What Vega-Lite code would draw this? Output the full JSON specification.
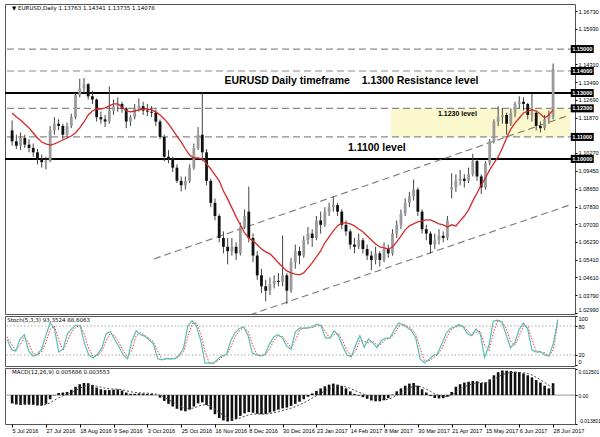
{
"$schema":"https://vega.github.io/schema/vega-lite/v6.json",
"background":"white",
"padding":{"left":3,"top":3,"right":0,"bottom":0},
"spacing":2,
"bounds":"flush",
"datasets":{
"p":[
{"i":0,"o":1.1130,"h":1.1175,"l":1.1060,"c":1.1080,"a":1.1209,"k":52,"d":58,"m":-0.0040,"s":-0.0035},
{"i":2,"o":1.1080,"h":1.1110,"l":1.1045,"c":1.1060,"a":1.1191,"k":32,"d":42,"m":-0.0045,"s":-0.0039},
{"i":4,"o":1.1060,"h":1.1120,"l":1.1040,"c":1.1095,"a":1.1177,"k":28,"d":30,"m":-0.0048,"s":-0.0042},
{"i":6,"o":1.1095,"h":1.1110,"l":1.1050,"c":1.1065,"a":1.1159,"k":53,"d":40,"m":-0.0046,"s":-0.0043},
{"i":8,"o":1.1065,"h":1.1090,"l":1.1030,"c":1.1050,"a":1.1141,"k":62,"d":57,"m":-0.0045,"s":-0.0044},
{"i":10,"o":1.1050,"h":1.1070,"l":1.1010,"c":1.1030,"a":1.1118,"k":28,"d":45,"m":-0.0046,"s":-0.0045},
{"i":12,"o":1.1030,"h":1.1045,"l":1.0975,"c":1.1000,"a":1.1095,"k":18,"d":23,"m":-0.0050,"s":-0.0047},
{"i":14,"o":1.1000,"h":1.1020,"l":1.0960,"c":1.0985,"a":1.1077,"k":21,"d":20,"m":-0.0050,"s":-0.0048},
{"i":16,"o":1.0985,"h":1.1010,"l":1.0952,"c":1.0990,"a":1.1068,"k":32,"d":26,"m":-0.0042,"s":-0.0046},
{"i":18,"o":1.0990,"h":1.1150,"l":1.0985,"c":1.1130,"a":1.1063,"k":60,"d":46,"m":-0.0020,"s":-0.0037},
{"i":20,"o":1.1130,"h":1.1190,"l":1.1110,"c":1.1160,"a":1.1068,"k":87,"d":73,"m":-0.0002,"s":-0.0025},
{"i":22,"o":1.1160,"h":1.1180,"l":1.1130,"c":1.1150,"a":1.1077,"k":74,"d":80,"m":0.0010,"s":-0.0013},
{"i":24,"o":1.1150,"h":1.1160,"l":1.1090,"c":1.1110,"a":1.1086,"k":26,"d":50,"m":0.0012,"s":-0.0004},
{"i":26,"o":1.1110,"h":1.1165,"l":1.1100,"c":1.1150,"a":1.1095,"k":32,"d":29,"m":0.0015,"s":0.0003},
{"i":28,"o":1.1150,"h":1.1205,"l":1.1140,"c":1.1190,"a":1.1104,"k":64,"d":48,"m":0.0025,"s":0.0011},
{"i":30,"o":1.1190,"h":1.1300,"l":1.1180,"c":1.1290,"a":1.1118,"k":74,"d":69,"m":0.0040,"s":0.0021},
{"i":32,"o":1.1290,"h":1.1365,"l":1.1280,"c":1.1320,"a":1.1141,"k":82,"d":78,"m":0.0052,"s":0.0032},
{"i":34,"o":1.1320,"h":1.1368,"l":1.1300,"c":1.1340,"a":1.1168,"k":80,"d":81,"m":0.0058,"s":0.0041},
{"i":36,"o":1.1340,"h":1.1345,"l":1.1270,"c":1.1285,"a":1.1200,"k":43,"d":62,"m":0.0057,"s":0.0046},
{"i":38,"o":1.1285,"h":1.1310,"l":1.1250,"c":1.1270,"a":1.1218,"k":20,"d":32,"m":0.0048,"s":0.0047},
{"i":40,"o":1.1270,"h":1.1275,"l":1.1170,"c":1.1190,"a":1.1227,"k":14,"d":17,"m":0.0036,"s":0.0043},
{"i":42,"o":1.1190,"h":1.1215,"l":1.1160,"c":1.1180,"a":1.1227,"k":22,"d":18,"m":0.0028,"s":0.0038},
{"i":44,"o":1.1180,"h":1.1200,"l":1.1145,"c":1.1170,"a":1.1232,"k":34,"d":28,"m":0.0024,"s":0.0033},
{"i":46,"o":1.1170,"h":1.1330,"l":1.1160,"c":1.1220,"a":1.1241,"k":64,"d":49,"m":0.0024,"s":0.0030},
{"i":48,"o":1.1220,"h":1.1270,"l":1.1200,"c":1.1240,"a":1.1250,"k":68,"d":66,"m":0.0026,"s":0.0029},
{"i":50,"o":1.1240,"h":1.1280,"l":1.1215,"c":1.1250,"a":1.1250,"k":52,"d":60,"m":0.0027,"s":0.0028},
{"i":52,"o":1.1250,"h":1.1260,"l":1.1210,"c":1.1230,"a":1.1236,"k":37,"d":45,"m":0.0022,"s":0.0026},
{"i":54,"o":1.1230,"h":1.1235,"l":1.1140,"c":1.1170,"a":1.1218,"k":20,"d":29,"m":0.0012,"s":0.0021},
{"i":56,"o":1.1170,"h":1.1200,"l":1.1150,"c":1.1190,"a":1.1214,"k":12,"d":16,"m":0.0006,"s":0.0016},
{"i":58,"o":1.1190,"h":1.1250,"l":1.1180,"c":1.1230,"a":1.1218,"k":49,"d":30,"m":0.0006,"s":0.0013},
{"i":60,"o":1.1230,"h":1.1275,"l":1.1215,"c":1.1240,"a":1.1223,"k":70,"d":60,"m":0.0008,"s":0.0011},
{"i":62,"o":1.1240,"h":1.1260,"l":1.1200,"c":1.1220,"a":1.1227,"k":62,"d":66,"m":0.0007,"s":0.0010},
{"i":64,"o":1.1220,"h":1.1250,"l":1.1195,"c":1.1215,"a":1.1227,"k":59,"d":60,"m":0.0006,"s":0.0009},
{"i":66,"o":1.1215,"h":1.1240,"l":1.1190,"c":1.1210,"a":1.1223,"k":51,"d":55,"m":0.0005,"s":0.0008},
{"i":68,"o":1.1210,"h":1.1225,"l":1.1150,"c":1.1170,"a":1.1214,"k":43,"d":47,"m":0.0001,"s":0.0005},
{"i":70,"o":1.1170,"h":1.1180,"l":1.1090,"c":1.1100,"a":1.1200,"k":12,"d":28,"m":-0.0012,"s":-0.0001},
{"i":72,"o":1.1100,"h":1.1110,"l":1.0990,"c":1.1010,"a":1.1182,"k":10,"d":11,"m":-0.0028,"s":-0.0011},
{"i":74,"o":1.1010,"h":1.1040,"l":1.0980,"c":1.1000,"a":1.1159,"k":13,"d":12,"m":-0.0042,"s":-0.0022},
{"i":76,"o":1.1000,"h":1.1010,"l":1.0940,"c":1.0960,"a":1.1132,"k":12,"d":12,"m":-0.0055,"s":-0.0033},
{"i":78,"o":1.0960,"h":1.0975,"l":1.0890,"c":1.0900,"a":1.1104,"k":13,"d":12,"m":-0.0066,"s":-0.0045},
{"i":80,"o":1.0900,"h":1.0920,"l":1.0852,"c":1.0880,"a":1.1077,"k":20,"d":17,"m":-0.0074,"s":-0.0055},
{"i":82,"o":1.0880,"h":1.0920,"l":1.0860,"c":1.0900,"a":1.1045,"k":34,"d":27,"m":-0.0078,"s":-0.0063},
{"i":84,"o":1.0900,"h":1.0975,"l":1.0890,"c":1.0960,"a":1.1018,"k":80,"d":57,"m":-0.0070,"s":-0.0065},
{"i":86,"o":1.0960,"h":1.1070,"l":1.0950,"c":1.1050,"a":1.1004,"k":91,"d":85,"m":-0.0055,"s":-0.0062},
{"i":88,"o":1.1050,"h":1.1145,"l":1.1040,"c":1.1110,"a":1.1004,"k":80,"d":86,"m":-0.0040,"s":-0.0054},
{"i":90,"o":1.1110,"h":1.1300,"l":1.0990,"c":1.1030,"a":1.1000,"k":50,"d":65,"m":-0.0035,"s":-0.0047},
{"i":92,"o":1.1030,"h":1.1045,"l":1.0880,"c":1.0900,"a":1.0977,"k":3,"d":27,"m":-0.0048,"s":-0.0047},
{"i":94,"o":1.0900,"h":1.0910,"l":1.0780,"c":1.0800,"a":1.0954,"k":3,"d":3,"m":-0.0070,"s":-0.0055},
{"i":96,"o":1.0800,"h":1.0820,"l":1.0720,"c":1.0740,"a":1.0927,"k":3,"d":3,"m":-0.0092,"s":-0.0068},
{"i":98,"o":1.0740,"h":1.0750,"l":1.0620,"c":1.0640,"a":1.0900,"k":12,"d":8,"m":-0.0110,"s":-0.0083},
{"i":100,"o":1.0640,"h":1.0670,"l":1.0570,"c":1.0600,"a":1.0854,"k":19,"d":16,"m":-0.0122,"s":-0.0097},
{"i":102,"o":1.0600,"h":1.0640,"l":1.0520,"c":1.0580,"a":1.0818,"k":21,"d":20,"m":-0.0127,"s":-0.0108},
{"i":104,"o":1.0580,"h":1.0640,"l":1.0560,"c":1.0600,"a":1.0777,"k":50,"d":36,"m":-0.0124,"s":-0.0114},
{"i":106,"o":1.0600,"h":1.0620,"l":1.0540,"c":1.0570,"a":1.0736,"k":66,"d":58,"m":-0.0115,"s":-0.0115},
{"i":108,"o":1.0570,"h":1.0710,"l":1.0560,"c":1.0690,"a":1.0700,"k":75,"d":70,"m":-0.0100,"s":-0.0110},
{"i":110,"o":1.0690,"h":1.0770,"l":1.0680,"c":1.0740,"a":1.0663,"k":78,"d":77,"m":-0.0088,"s":-0.0102},
{"i":112,"o":1.0760,"h":1.0874,"l":1.0620,"c":1.0640,"a":1.0640,"k":60,"d":69,"m":-0.0082,"s":-0.0095},
{"i":114,"o":1.0640,"h":1.0660,"l":1.0530,"c":1.0560,"a":1.0627,"k":24,"d":42,"m":-0.0085,"s":-0.0091},
{"i":116,"o":1.0560,"h":1.0580,"l":1.0450,"c":1.0470,"a":1.0609,"k":20,"d":22,"m":-0.0090,"s":-0.0091},
{"i":118,"o":1.0470,"h":1.0500,"l":1.0390,"c":1.0420,"a":1.0590,"k":18,"d":19,"m":-0.0092,"s":-0.0091},
{"i":120,"o":1.0420,"h":1.0450,"l":1.0352,"c":1.0400,"a":1.0577,"k":22,"d":20,"m":-0.0090,"s":-0.0091},
{"i":122,"o":1.0400,"h":1.0460,"l":1.0380,"c":1.0430,"a":1.0568,"k":43,"d":32,"m":-0.0084,"s":-0.0089},
{"i":124,"o":1.0430,"h":1.0470,"l":1.0410,"c":1.0445,"a":1.0549,"k":58,"d":50,"m":-0.0078,"s":-0.0085},
{"i":126,"o":1.0445,"h":1.0480,"l":1.0420,"c":1.0440,"a":1.0527,"k":62,"d":60,"m":-0.0070,"s":-0.0080},
{"i":128,"o":1.0440,"h":1.0652,"l":1.0420,"c":1.0470,"a":1.0508,"k":55,"d":58,"m":-0.0064,"s":-0.0074},
{"i":130,"o":1.0470,"h":1.0480,"l":1.0340,"c":1.0400,"a":1.0490,"k":38,"d":47,"m":-0.0060,"s":-0.0069},
{"i":132,"o":1.0400,"h":1.0550,"l":1.0390,"c":1.0530,"a":1.0481,"k":32,"d":35,"m":-0.0052,"s":-0.0063},
{"i":134,"o":1.0530,"h":1.0610,"l":1.0500,"c":1.0580,"a":1.0476,"k":68,"d":50,"m":-0.0042,"s":-0.0056},
{"i":136,"o":1.0580,"h":1.0600,"l":1.0520,"c":1.0560,"a":1.0472,"k":76,"d":72,"m":-0.0032,"s":-0.0047},
{"i":138,"o":1.0560,"h":1.0650,"l":1.0550,"c":1.0630,"a":1.0481,"k":75,"d":76,"m":-0.0020,"s":-0.0038},
{"i":140,"o":1.0630,"h":1.0690,"l":1.0610,"c":1.0660,"a":1.0504,"k":76,"d":76,"m":-0.0008,"s":-0.0027},
{"i":142,"o":1.0660,"h":1.0680,"l":1.0600,"c":1.0640,"a":1.0527,"k":79,"d":77,"m":0.0008,"s":-0.0015},
{"i":144,"o":1.0640,"h":1.0740,"l":1.0630,"c":1.0720,"a":1.0554,"k":84,"d":81,"m":0.0020,"s":-0.0003},
{"i":146,"o":1.0720,"h":1.0760,"l":1.0660,"c":1.0700,"a":1.0581,"k":80,"d":82,"m":0.0032,"s":0.0009},
{"i":148,"o":1.0700,"h":1.0780,"l":1.0690,"c":1.0760,"a":1.0618,"k":55,"d":68,"m":0.0042,"s":0.0020},
{"i":150,"o":1.0760,"h":1.0800,"l":1.0740,"c":1.0780,"a":1.0645,"k":55,"d":55,"m":0.0050,"s":0.0030},
{"i":152,"o":1.0780,"h":1.0829,"l":1.0760,"c":1.0790,"a":1.0672,"k":70,"d":62,"m":0.0055,"s":0.0039},
{"i":154,"o":1.0790,"h":1.0800,"l":1.0740,"c":1.0760,"a":1.0695,"k":60,"d":65,"m":0.0050,"s":0.0043},
{"i":156,"o":1.0760,"h":1.0770,"l":1.0680,"c":1.0700,"a":1.0709,"k":38,"d":49,"m":0.0043,"s":0.0043},
{"i":158,"o":1.0700,"h":1.0720,"l":1.0650,"c":1.0670,"a":1.0709,"k":20,"d":29,"m":0.0032,"s":0.0039},
{"i":160,"o":1.0670,"h":1.0680,"l":1.0590,"c":1.0610,"a":1.0704,"k":16,"d":18,"m":0.0018,"s":0.0032},
{"i":162,"o":1.0610,"h":1.0640,"l":1.0570,"c":1.0600,"a":1.0695,"k":40,"d":28,"m":0.0006,"s":0.0023},
{"i":164,"o":1.0600,"h":1.0660,"l":1.0590,"c":1.0630,"a":1.0681,"k":60,"d":50,"m":-0.0003,"s":0.0014},
{"i":166,"o":1.0630,"h":1.0640,"l":1.0570,"c":1.0590,"a":1.0668,"k":36,"d":48,"m":-0.0010,"s":0.0006},
{"i":168,"o":1.0590,"h":1.0610,"l":1.0540,"c":1.0560,"a":1.0649,"k":53,"d":45,"m":-0.0018,"s":-0.0002},
{"i":170,"o":1.0560,"h":1.0580,"l":1.0494,"c":1.0540,"a":1.0631,"k":45,"d":49,"m":-0.0026,"s":-0.0010},
{"i":172,"o":1.0540,"h":1.0600,"l":1.0520,"c":1.0570,"a":1.0613,"k":35,"d":40,"m":-0.0030,"s":-0.0017},
{"i":174,"o":1.0570,"h":1.0580,"l":1.0510,"c":1.0540,"a":1.0599,"k":50,"d":43,"m":-0.0030,"s":-0.0021},
{"i":176,"o":1.0540,"h":1.0620,"l":1.0530,"c":1.0590,"a":1.0595,"k":55,"d":52,"m":-0.0025,"s":-0.0022},
{"i":178,"o":1.0590,"h":1.0610,"l":1.0550,"c":1.0570,"a":1.0590,"k":55,"d":55,"m":-0.0015,"s":-0.0020},
{"i":180,"o":1.0570,"h":1.0680,"l":1.0560,"c":1.0660,"a":1.0599,"k":72,"d":63,"m":0.0002,"s":-0.0012},
{"i":182,"o":1.0660,"h":1.0720,"l":1.0640,"c":1.0700,"a":1.0622,"k":86,"d":79,"m":0.0018,"s":-0.0002},
{"i":184,"o":1.0700,"h":1.0770,"l":1.0680,"c":1.0750,"a":1.0649,"k":82,"d":84,"m":0.0032,"s":0.0010},
{"i":186,"o":1.0750,"h":1.0820,"l":1.0740,"c":1.0800,"a":1.0677,"k":77,"d":80,"m":0.0045,"s":0.0022},
{"i":188,"o":1.0800,"h":1.0850,"l":1.0780,"c":1.0830,"a":1.0695,"k":70,"d":74,"m":0.0055,"s":0.0034},
{"i":190,"o":1.0830,"h":1.0906,"l":1.0810,"c":1.0860,"a":1.0704,"k":55,"d":63,"m":0.0058,"s":0.0042},
{"i":192,"o":1.0860,"h":1.0870,"l":1.0740,"c":1.0760,"a":1.0713,"k":12,"d":34,"m":0.0045,"s":0.0043},
{"i":194,"o":1.0760,"h":1.0770,"l":1.0660,"c":1.0680,"a":1.0718,"k":4,"d":8,"m":0.0028,"s":0.0038},
{"i":196,"o":1.0680,"h":1.0700,"l":1.0630,"c":1.0660,"a":1.0722,"k":10,"d":7,"m":0.0012,"s":0.0029},
{"i":198,"o":1.0660,"h":1.0670,"l":1.0570,"c":1.0610,"a":1.0722,"k":19,"d":14,"m":-0.0005,"s":0.0017},
{"i":200,"o":1.0610,"h":1.0660,"l":1.0590,"c":1.0630,"a":1.0713,"k":22,"d":20,"m":-0.0014,"s":0.0006},
{"i":202,"o":1.0630,"h":1.0680,"l":1.0610,"c":1.0650,"a":1.0704,"k":42,"d":32,"m":-0.0016,"s":-0.0002},
{"i":204,"o":1.0650,"h":1.0670,"l":1.0620,"c":1.0640,"a":1.0700,"k":64,"d":53,"m":-0.0015,"s":-0.0006},
{"i":206,"o":1.0640,"h":1.0740,"l":1.0630,"c":1.0720,"a":1.0690,"k":75,"d":70,"m":-0.0008,"s":-0.0007},
{"i":208,"o":1.0860,"h":1.0935,"l":1.0820,"c":1.0870,"a":1.0700,"k":78,"d":77,"m":0.0015,"s":0.0001},
{"i":210,"o":1.0870,"h":1.0930,"l":1.0850,"c":1.0900,"a":1.0695,"k":83,"d":80,"m":0.0040,"s":0.0015},
{"i":212,"o":1.0900,"h":1.0950,"l":1.0880,"c":1.0910,"a":1.0718,"k":78,"d":80,"m":0.0052,"s":0.0028},
{"i":214,"o":1.0910,"h":1.0930,"l":1.0870,"c":1.0900,"a":1.0740,"k":64,"d":71,"m":0.0060,"s":0.0039},
{"i":216,"o":1.0900,"h":1.0960,"l":1.0890,"c":1.0930,"a":1.0768,"k":60,"d":62,"m":0.0064,"s":0.0048},
{"i":218,"o":1.0930,"h":1.1023,"l":1.0920,"c":1.0990,"a":1.0809,"k":74,"d":67,"m":0.0068,"s":0.0055},
{"i":220,"o":1.0990,"h":1.1000,"l":1.0900,"c":1.0920,"a":1.0845,"k":63,"d":69,"m":0.0066,"s":0.0059},
{"i":222,"o":1.0920,"h":1.0930,"l":1.0840,"c":1.0870,"a":1.0881,"k":15,"d":39,"m":0.0058,"s":0.0059},
{"i":224,"o":1.0870,"h":1.0990,"l":1.0860,"c":1.0980,"a":1.0913,"k":40,"d":28,"m":0.0060,"s":0.0059},
{"i":226,"o":1.0980,"h":1.1090,"l":1.0970,"c":1.1080,"a":1.0950,"k":90,"d":65,"m":0.0075,"s":0.0065},
{"i":228,"o":1.1080,"h":1.1180,"l":1.1070,"c":1.1170,"a":1.0981,"k":92,"d":91,"m":0.0095,"s":0.0075},
{"i":230,"o":1.1170,"h":1.1240,"l":1.1150,"c":1.1190,"a":1.1009,"k":88,"d":90,"m":0.0110,"s":0.0087},
{"i":232,"o":1.1190,"h":1.1230,"l":1.1160,"c":1.1200,"a":1.1050,"k":62,"d":75,"m":0.0118,"s":0.0098},
{"i":234,"o":1.1200,"h":1.1210,"l":1.1110,"c":1.1160,"a":1.1095,"k":35,"d":49,"m":0.0117,"s":0.0104},
{"i":236,"o":1.1160,"h":1.1230,"l":1.1150,"c":1.1210,"a":1.1136,"k":45,"d":40,"m":0.0115,"s":0.0108},
{"i":238,"o":1.1210,"h":1.1260,"l":1.1190,"c":1.1250,"a":1.1164,"k":73,"d":59,"m":0.0112,"s":0.0109},
{"i":240,"o":1.1250,"h":1.1285,"l":1.1230,"c":1.1260,"a":1.1186,"k":86,"d":80,"m":0.0110,"s":0.0109},
{"i":242,"o":1.1260,"h":1.1280,"l":1.1220,"c":1.1250,"a":1.1209,"k":74,"d":80,"m":0.0104,"s":0.0107},
{"i":244,"o":1.1250,"h":1.1255,"l":1.1180,"c":1.1200,"a":1.1218,"k":30,"d":52,"m":0.0095,"s":0.0103},
{"i":246,"o":1.1200,"h":1.1296,"l":1.1170,"c":1.1210,"a":1.1223,"k":26,"d":28,"m":0.0085,"s":0.0097},
{"i":248,"o":1.1210,"h":1.1220,"l":1.1130,"c":1.1150,"a":1.1218,"k":27,"d":26,"m":0.0072,"s":0.0085},
{"i":250,"o":1.1150,"h":1.1170,"l":1.1120,"c":1.1140,"a":1.1204,"k":20,"d":24,"m":0.0060,"s":0.0074},
{"i":252,"o":1.1140,"h":1.1200,"l":1.1130,"c":1.1180,"a":1.1186,"k":18,"d":19,"m":0.0045,"s":0.0060},
{"i":254,"o":1.1180,"h":1.1220,"l":1.1160,"c":1.1200,"a":1.1200,"k":45,"d":32,"m":0.0032,"s":0.0047},
{"i":256,"o":1.1190,"h":1.1434,"l":1.1180,"c":1.1408,"a":1.1223,"k":93,"d":88,"m":0.0057,"s":0.0036}
],
"lv":[{"p":1.15,"t":"1.15000"},{"p":1.14,"t":"1.14000"},{"p":1.13,"t":"1.13000"},{"p":1.123,"t":"1.12300"},{"p":1.11,"t":"1.11000"},{"p":1.10,"t":"1.10000"}],
"ch":[{"x1":67.1,"y1":1.05447,"x2":263.9,"y2":1.11998},{"x1":112.5,"y1":1.02899,"x2":263.9,"y2":1.07904}]
},
"vconcat":[
{"width":570,"height":310,
"layer":[
{"data":{"values":[{"x1":179.2,"x2":264,"y1":1.11,"y2":1.123}]},
 "mark":{"type":"rect","color":"#fbf8cd"},
 "encoding":{
  "x":{"field":"x1","type":"quantitative","scale":{"domain":[-1,264],"nice":false,"zero":false},"axis":null},
  "x2":{"field":"x2"},
  "y":{"field":"y1","type":"quantitative","scale":{"domain":[1.0294,1.1705],"nice":false,"zero":false},
       "axis":{"orient":"right","values":[1.0299,1.0379,1.0461,1.0541,1.0623,1.0703,1.0783,1.0865,1.0945,1.1027,1.1187,1.1269,1.1349,1.1431,1.1593,1.1673],"format":".5f","title":null,"tickSize":2,"labelPadding":1,"domain":false,"grid":false,"labelFontSize":5.6,"labelBaseline":{"condition":{"test":"datum.value < 1.031","value":"bottom"},"value":"middle"}}},
  "y2":{"field":"y2"}}},
{"data":{"values":[{"p":1.15},{"p":1.14},{"p":1.123},{"p":1.11}]},
 "mark":{"type":"rule","color":"#8a8a8a","strokeDash":[7,4],"strokeWidth":1.2},
 "encoding":{"y":{"field":"p","type":"quantitative","scale":{"domain":[1.0294,1.1705],"nice":false,"zero":false},
       "axis":{"orient":"right","values":[1.0299,1.0379,1.0461,1.0541,1.0623,1.0703,1.0783,1.0865,1.0945,1.1027,1.1187,1.1269,1.1349,1.1431,1.1593,1.1673],"format":".5f","title":null,"tickSize":2,"labelPadding":1,"domain":false,"grid":false,"labelFontSize":5.6,"labelBaseline":{"condition":{"test":"datum.value < 1.031","value":"bottom"},"value":"middle"}}}}},
{"data":{"values":[{"p":1.13},{"p":1.10}]},
 "mark":{"type":"rule","color":"#000000","strokeWidth":2},
 "encoding":{"y":{"field":"p","type":"quantitative","scale":{"domain":[1.0294,1.1705],"nice":false,"zero":false},
       "axis":{"orient":"right","values":[1.0299,1.0379,1.0461,1.0541,1.0623,1.0703,1.0783,1.0865,1.0945,1.1027,1.1187,1.1269,1.1349,1.1431,1.1593,1.1673],"format":".5f","title":null,"tickSize":2,"labelPadding":1,"domain":false,"grid":false,"labelFontSize":5.6,"labelBaseline":{"condition":{"test":"datum.value < 1.031","value":"bottom"},"value":"middle"}}}}},
{"data":{"name":"ch"},
 "mark":{"type":"rule","color":"#7a7a7a","strokeDash":[7,4],"strokeWidth":1.1,"clip":true},
 "encoding":{
  "x":{"field":"x1","type":"quantitative","scale":{"domain":[-1,264],"nice":false,"zero":false},"axis":null},
  "x2":{"field":"x2"},
  "y":{"field":"y1","type":"quantitative","scale":{"domain":[1.0294,1.1705],"nice":false,"zero":false},
       "axis":{"orient":"right","values":[1.0299,1.0379,1.0461,1.0541,1.0623,1.0703,1.0783,1.0865,1.0945,1.1027,1.1187,1.1269,1.1349,1.1431,1.1593,1.1673],"format":".5f","title":null,"tickSize":2,"labelPadding":1,"domain":false,"grid":false,"labelFontSize":5.6,"labelBaseline":{"condition":{"test":"datum.value < 1.031","value":"bottom"},"value":"middle"}}},
  "y2":{"field":"y2"}}},
{"data":{"name":"p"},
 "mark":{"type":"rule","color":"#444444","strokeWidth":1},
 "encoding":{
  "x":{"field":"i","type":"quantitative","scale":{"domain":[-1,264],"nice":false,"zero":false},"axis":null},
  "y":{"field":"l","type":"quantitative","scale":{"domain":[1.0294,1.1705],"nice":false,"zero":false},
       "axis":{"orient":"right","values":[1.0299,1.0379,1.0461,1.0541,1.0623,1.0703,1.0783,1.0865,1.0945,1.1027,1.1187,1.1269,1.1349,1.1431,1.1593,1.1673],"format":".5f","title":null,"tickSize":2,"labelPadding":1,"domain":false,"grid":false,"labelFontSize":5.6,"labelBaseline":{"condition":{"test":"datum.value < 1.031","value":"bottom"},"value":"middle"}}},
  "y2":{"field":"h"}}},
{"data":{"name":"p"},
 "mark":{"type":"bar","width":2.8},
 "encoding":{
  "x":{"field":"i","type":"quantitative","scale":{"domain":[-1,264],"nice":false,"zero":false},"axis":null},
  "y":{"field":"o","type":"quantitative","scale":{"domain":[1.0294,1.1705],"nice":false,"zero":false},
       "axis":{"orient":"right","values":[1.0299,1.0379,1.0461,1.0541,1.0623,1.0703,1.0783,1.0865,1.0945,1.1027,1.1187,1.1269,1.1349,1.1431,1.1593,1.1673],"format":".5f","title":null,"tickSize":2,"labelPadding":1,"domain":false,"grid":false,"labelFontSize":5.6,"labelBaseline":{"condition":{"test":"datum.value < 1.031","value":"bottom"},"value":"middle"}}},
  "y2":{"field":"c"},
  "color":{"condition":{"test":"datum.c >= datum.o","value":"#9a9a9a"},"value":"#111111"}}},
{"data":{"name":"p"},
 "mark":{"type":"line","color":"#d42a2a","strokeWidth":1.3},
 "encoding":{
  "x":{"field":"i","type":"quantitative","scale":{"domain":[-1,264],"nice":false,"zero":false},"axis":null},
  "y":{"field":"a","type":"quantitative","scale":{"domain":[1.0294,1.1705],"nice":false,"zero":false},
       "axis":{"orient":"right","values":[1.0299,1.0379,1.0461,1.0541,1.0623,1.0703,1.0783,1.0865,1.0945,1.1027,1.1187,1.1269,1.1349,1.1431,1.1593,1.1673],"format":".5f","title":null,"tickSize":2,"labelPadding":1,"domain":false,"grid":false,"labelFontSize":5.6,"labelBaseline":{"condition":{"test":"datum.value < 1.031","value":"bottom"},"value":"middle"}}}}},
{"data":{"name":"lv"},
 "mark":{"type":"tick","orient":"horizontal","size":23,"thickness":8,"color":"#000000","opacity":1},
 "encoding":{
  "x":{"datum":269.8,"type":"quantitative","scale":{"domain":[-1,264],"nice":false,"zero":false},"axis":null},
  "y":{"field":"p","type":"quantitative","scale":{"domain":[1.0294,1.1705],"nice":false,"zero":false},
       "axis":{"orient":"right","values":[1.0299,1.0379,1.0461,1.0541,1.0623,1.0703,1.0783,1.0865,1.0945,1.1027,1.1187,1.1269,1.1349,1.1431,1.1593,1.1673],"format":".5f","title":null,"tickSize":2,"labelPadding":1,"domain":false,"grid":false,"labelFontSize":5.6,"labelBaseline":{"condition":{"test":"datum.value < 1.031","value":"bottom"},"value":"middle"}}}}},
{"data":{"name":"lv"},
 "mark":{"type":"text","color":"#ffffff","fontSize":5.6,"fontWeight":"bold","align":"center","baseline":"middle","font":"Liberation Sans"},
 "encoding":{
  "x":{"datum":269.8,"type":"quantitative","scale":{"domain":[-1,264],"nice":false,"zero":false},"axis":null},
  "y":{"field":"p","type":"quantitative","scale":{"domain":[1.0294,1.1705],"nice":false,"zero":false},
       "axis":{"orient":"right","values":[1.0299,1.0379,1.0461,1.0541,1.0623,1.0703,1.0783,1.0865,1.0945,1.1027,1.1187,1.1269,1.1349,1.1431,1.1593,1.1673],"format":".5f","title":null,"tickSize":2,"labelPadding":1,"domain":false,"grid":false,"labelFontSize":5.6,"labelBaseline":{"condition":{"test":"datum.value < 1.031","value":"bottom"},"value":"middle"}}},
  "text":{"field":"t"}}},
{"data":{"values":[{"x":100.5,"y":1.1353,"t":"EURUSD Daily timeframe"},{"x":165.4,"y":1.1356,"t":"1.1300 Resistance level"},{"x":158.9,"y":1.1050,"t":"1.1100 level"}]},
 "mark":{"type":"text","color":"#000000","fontSize":10.5,"fontWeight":"bold","align":"left","baseline":"middle","font":"Liberation Sans"},
 "encoding":{
  "x":{"field":"x","type":"quantitative","scale":{"domain":[-1,264],"nice":false,"zero":false},"axis":null},
  "y":{"field":"y","type":"quantitative","scale":{"domain":[1.0294,1.1705],"nice":false,"zero":false},
       "axis":{"orient":"right","values":[1.0299,1.0379,1.0461,1.0541,1.0623,1.0703,1.0783,1.0865,1.0945,1.1027,1.1187,1.1269,1.1349,1.1431,1.1593,1.1673],"format":".5f","title":null,"tickSize":2,"labelPadding":1,"domain":false,"grid":false,"labelFontSize":5.6,"labelBaseline":{"condition":{"test":"datum.value < 1.031","value":"bottom"},"value":"middle"}}},
  "text":{"field":"t"}}},
{"data":{"values":[{"x":201.5,"y":1.1204,"t":"1.1230 level"}]},
 "mark":{"type":"text","color":"#000000","fontSize":7,"fontWeight":"bold","align":"left","baseline":"middle","font":"Liberation Sans"},
 "encoding":{
  "x":{"field":"x","type":"quantitative","scale":{"domain":[-1,264],"nice":false,"zero":false},"axis":null},
  "y":{"field":"y","type":"quantitative","scale":{"domain":[1.0294,1.1705],"nice":false,"zero":false},
       "axis":{"orient":"right","values":[1.0299,1.0379,1.0461,1.0541,1.0623,1.0703,1.0783,1.0865,1.0945,1.1027,1.1187,1.1269,1.1349,1.1431,1.1593,1.1673],"format":".5f","title":null,"tickSize":2,"labelPadding":1,"domain":false,"grid":false,"labelFontSize":5.6,"labelBaseline":{"condition":{"test":"datum.value < 1.031","value":"bottom"},"value":"middle"}}},
  "text":{"field":"t"}}},
{"data":{"values":[{"x":0,"y":1.1687,"t":"▼ EURUSD,Daily  1.13763 1.14341 1.13735 1.14078"}]},
 "mark":{"type":"text","color":"#000000","fontSize":5.5,"align":"left","baseline":"middle","font":"DejaVu Sans"},
 "encoding":{
  "x":{"field":"x","type":"quantitative","scale":{"domain":[-1,264],"nice":false,"zero":false},"axis":null},
  "y":{"field":"y","type":"quantitative","scale":{"domain":[1.0294,1.1705],"nice":false,"zero":false},
       "axis":{"orient":"right","values":[1.0299,1.0379,1.0461,1.0541,1.0623,1.0703,1.0783,1.0865,1.0945,1.1027,1.1187,1.1269,1.1349,1.1431,1.1593,1.1673],"format":".5f","title":null,"tickSize":2,"labelPadding":1,"domain":false,"grid":false,"labelFontSize":5.6,"labelBaseline":{"condition":{"test":"datum.value < 1.031","value":"bottom"},"value":"middle"}}},
  "text":{"field":"t"}}}
]},
{"width":570,"height":50,
"layer":[
{"data":{"values":[{"v":80},{"v":20}]},
 "mark":{"type":"rule","color":"#aaaaaa","strokeDash":[1.5,2],"strokeWidth":1},
 "encoding":{"y":{"field":"v","type":"quantitative","scale":{"domain":[-2.8,100.7],"nice":false,"zero":false},
   "axis":{"orient":"right","values":[0,20,80,100],"title":null,"tickSize":2,"labelPadding":1,"domain":false,"grid":false,"labelFontSize":5.6,"labelBaseline":{"condition":[{"test":"datum.value > 90","value":"top"},{"test":"datum.value < 10","value":"bottom"}],"value":"middle"}}}}},
{"data":{"name":"p"},
 "mark":{"type":"line","color":"#e04040","strokeDash":[1.5,1.5],"strokeWidth":1},
 "encoding":{
  "x":{"field":"i","type":"quantitative","scale":{"domain":[-1,264],"nice":false,"zero":false},"axis":null},
  "y":{"field":"d","type":"quantitative","scale":{"domain":[-2.8,100.7],"nice":false,"zero":false},
   "axis":{"orient":"right","values":[0,20,80,100],"title":null,"tickSize":2,"labelPadding":1,"domain":false,"grid":false,"labelFontSize":5.6,"labelBaseline":{"condition":[{"test":"datum.value > 90","value":"top"},{"test":"datum.value < 10","value":"bottom"}],"value":"middle"}}}}},
{"data":{"name":"p"},
 "mark":{"type":"line","color":"#5cbdb6","strokeWidth":1.2},
 "encoding":{
  "x":{"field":"i","type":"quantitative","scale":{"domain":[-1,264],"nice":false,"zero":false},"axis":null},
  "y":{"field":"k","type":"quantitative","scale":{"domain":[-2.8,100.7],"nice":false,"zero":false},
   "axis":{"orient":"right","values":[0,20,80,100],"title":null,"tickSize":2,"labelPadding":1,"domain":false,"grid":false,"labelFontSize":5.6,"labelBaseline":{"condition":[{"test":"datum.value > 90","value":"top"},{"test":"datum.value < 10","value":"bottom"}],"value":"middle"}}}}},
{"data":{"values":[{"x":0,"y":92,"t":"Stoch(5,3,3) 93.3524 88.6063"}]},
 "mark":{"type":"text","color":"#000000","fontSize":5.5,"align":"left","baseline":"middle","font":"DejaVu Sans"},
 "encoding":{
  "x":{"field":"x","type":"quantitative","scale":{"domain":[-1,264],"nice":false,"zero":false},"axis":null},
  "y":{"field":"y","type":"quantitative","scale":{"domain":[-2.8,100.7],"nice":false,"zero":false},
   "axis":{"orient":"right","values":[0,20,80,100],"title":null,"tickSize":2,"labelPadding":1,"domain":false,"grid":false,"labelFontSize":5.6,"labelBaseline":{"condition":[{"test":"datum.value > 90","value":"top"},{"test":"datum.value < 10","value":"bottom"}],"value":"middle"}}},
  "text":{"field":"t"}}}
]},
{"width":570,"height":56,
"layer":[
{"data":{"values":[{"v":0,"i":0}]},
 "mark":{"type":"rule","color":"#999999","strokeWidth":1},
 "encoding":{"y":{"field":"v","type":"quantitative","scale":{"domain":[-0.0139,0.0130],"nice":false,"zero":false},
   "axis":{"orient":"right","values":[0.0125,0,-0.0138],"labelExpr":"datum.value > 0.01 ? '0.012501' : (datum.value < -0.01 ? '-0.013801' : '0.00')","title":null,"tickSize":2,"labelPadding":1,"domain":false,"grid":false,"labelFontSize":5,"labelBaseline":{"condition":[{"test":"datum.value > 0.01","value":"top"},{"test":"datum.value < -0.01","value":"bottom"}],"value":"middle"}}}}},
{"data":{"name":"p"},
 "mark":{"type":"bar","width":2.6,"color":"#111111"},
 "encoding":{
  "x":{"field":"i","type":"quantitative","scale":{"domain":[-1,264],"nice":false,"zero":false},
   "axis":{"orient":"bottom","values":[0,16,32,48,64,80,96,112,128,144,160,176,192,208,224,240,256],"labelExpr":"['5 Jul 2016','27 Jul 2016','18 Aug 2016','9 Sep 2016','3 Oct 2016','25 Oct 2016','16 Nov 2016','8 Dec 2016','30 Dec 2016','23 Jan 2017','14 Feb 2017','8 Mar 2017','30 Mar 2017','21 Apr 2017','15 May 2017','6 Jun 2017','28 Jun 2017'][round(datum.value/16)]","labelAlign":"left","labelPadding":1,"tickSize":3,"title":null,"domain":false,"grid":false,"labelFontSize":5.6,"labelOverlap":false,"labelFlush":false}},
  "y":{"field":"m","type":"quantitative","scale":{"domain":[-0.0139,0.0130],"nice":false,"zero":false},
   "axis":{"orient":"right","values":[0.0125,0,-0.0138],"labelExpr":"datum.value > 0.01 ? '0.012501' : (datum.value < -0.01 ? '-0.013801' : '0.00')","title":null,"tickSize":2,"labelPadding":1,"domain":false,"grid":false,"labelFontSize":5,"labelBaseline":{"condition":[{"test":"datum.value > 0.01","value":"top"},{"test":"datum.value < -0.01","value":"bottom"}],"value":"middle"}}},
  "y2":{"datum":0}}},
{"data":{"name":"p"},
 "mark":{"type":"line","color":"#444444","strokeDash":[2,2],"strokeWidth":1},
 "encoding":{
  "x":{"field":"i","type":"quantitative","scale":{"domain":[-1,264],"nice":false,"zero":false},
   "axis":{"orient":"bottom","values":[0,16,32,48,64,80,96,112,128,144,160,176,192,208,224,240,256],"labelExpr":"['5 Jul 2016','27 Jul 2016','18 Aug 2016','9 Sep 2016','3 Oct 2016','25 Oct 2016','16 Nov 2016','8 Dec 2016','30 Dec 2016','23 Jan 2017','14 Feb 2017','8 Mar 2017','30 Mar 2017','21 Apr 2017','15 May 2017','6 Jun 2017','28 Jun 2017'][round(datum.value/16)]","labelAlign":"left","labelPadding":1,"tickSize":3,"title":null,"domain":false,"grid":false,"labelFontSize":5.6,"labelOverlap":false,"labelFlush":false}},
  "y":{"field":"s","type":"quantitative","scale":{"domain":[-0.0139,0.0130],"nice":false,"zero":false},
   "axis":{"orient":"right","values":[0.0125,0,-0.0138],"labelExpr":"datum.value > 0.01 ? '0.012501' : (datum.value < -0.01 ? '-0.013801' : '0.00')","title":null,"tickSize":2,"labelPadding":1,"domain":false,"grid":false,"labelFontSize":5,"labelBaseline":{"condition":[{"test":"datum.value > 0.01","value":"top"},{"test":"datum.value < -0.01","value":"bottom"}],"value":"middle"}}}}},
{"data":{"values":[{"x":0,"y":0.0112,"t":"MACD(12,26,9) 0.005686 0.003553"}]},
 "mark":{"type":"text","color":"#000000","fontSize":5.5,"align":"left","baseline":"middle","font":"DejaVu Sans"},
 "encoding":{
  "x":{"field":"x","type":"quantitative","scale":{"domain":[-1,264],"nice":false,"zero":false},
   "axis":{"orient":"bottom","values":[0,16,32,48,64,80,96,112,128,144,160,176,192,208,224,240,256],"labelExpr":"['5 Jul 2016','27 Jul 2016','18 Aug 2016','9 Sep 2016','3 Oct 2016','25 Oct 2016','16 Nov 2016','8 Dec 2016','30 Dec 2016','23 Jan 2017','14 Feb 2017','8 Mar 2017','30 Mar 2017','21 Apr 2017','15 May 2017','6 Jun 2017','28 Jun 2017'][round(datum.value/16)]","labelAlign":"left","labelPadding":1,"tickSize":3,"title":null,"domain":false,"grid":false,"labelFontSize":5.6,"labelOverlap":false,"labelFlush":false}},
  "y":{"field":"y","type":"quantitative","scale":{"domain":[-0.0139,0.0130],"nice":false,"zero":false},
   "axis":{"orient":"right","values":[0.0125,0,-0.0138],"labelExpr":"datum.value > 0.01 ? '0.012501' : (datum.value < -0.01 ? '-0.013801' : '0.00')","title":null,"tickSize":2,"labelPadding":1,"domain":false,"grid":false,"labelFontSize":5,"labelBaseline":{"condition":[{"test":"datum.value > 0.01","value":"top"},{"test":"datum.value < -0.01","value":"bottom"}],"value":"middle"}}},
  "text":{"field":"t"}}}
]}
],
"config":{"view":{"stroke":"#555555","strokeWidth":1},"font":"Liberation Sans","axis":{"labelColor":"#000000","tickColor":"#000000","labelFont":"Liberation Sans"}}
}
